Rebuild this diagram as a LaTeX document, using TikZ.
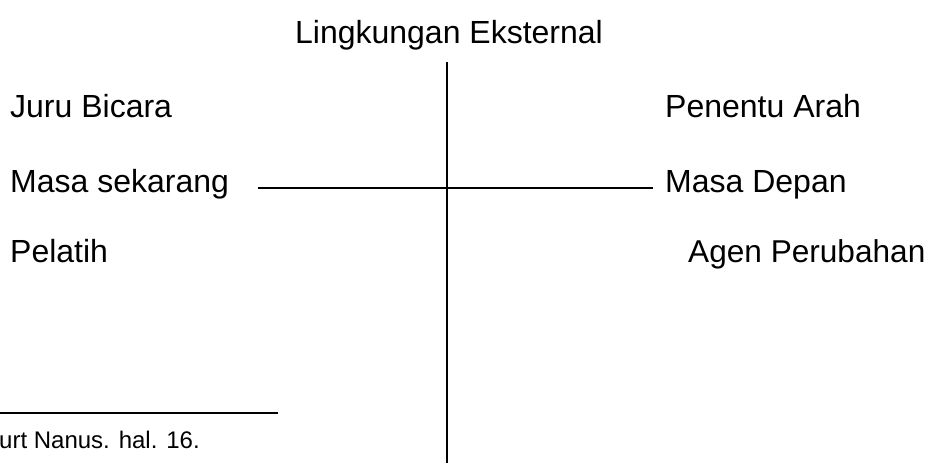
\documentclass[tikz,border=0pt]{standalone}
\usepackage{fontspec}
\setmainfont{Liberation Sans}
\begin{document}
\begin{tikzpicture}[x=1pt,y=-1pt,
  lbl/.style={anchor=base west,inner sep=0pt,font=\fontsize{32}{38}\selectfont},
  note/.style={anchor=base west,inner sep=0pt,font=\fontsize{24}{29}\selectfont},
  axis/.style={line width=2.7pt},
  vaxis/.style={line width=1.5pt},
  rule/.style={line width=1.3pt}]
\useasboundingbox (0,0) rectangle (928,463);
\node[anchor=base,inner sep=0pt,font=\fontsize{32}{38}\selectfont] (ext) at (449,43) {Lingkungan Eksternal};
\node[lbl] (juru) at (10,117) {Juru Bicara};
\node[lbl] (kini) at (10,192) {Masa sekarang};
\node[lbl] (latih) at (10,262) {Pelatih};
\node[lbl] (arah) at (665,117) {Penentu Arah};
\node[lbl] (depan) at (665,192) {Masa Depan};
\node[lbl,font=\fontsize{31.6}{38}\selectfont] (agen) at (688,262) {Agen Perubahan};
\node[note] (src) at (-1,448) {urt Nanus. hal. 16.};
\coordinate (hl) at (258,188);
\coordinate (hr) at (653,188);
\coordinate (vt) at (447,62);
\coordinate (vb) at (447,463);
\coordinate (rl) at (0,413);
\coordinate (rr) at (278,413);
\draw[axis] (hl) -- (hr);
\draw[vaxis] (vt) -- (vb);
\draw[rule] (rl) -- (rr);
\end{tikzpicture}
\end{document}
